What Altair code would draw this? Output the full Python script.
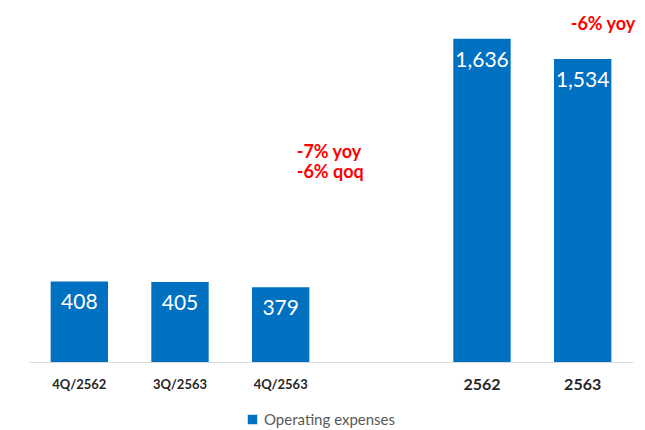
import altair as alt
import pandas as pd

# ---- data ----
categories = ["4Q/2562", "3Q/2563", "4Q/2563", "2562", "2563"]
values = [408, 405, 379, 1636, 1534]
series_name = "Operating expenses"
axis_order = ["4Q/2562", "3Q/2563", "4Q/2563", " ", "2562", "2563"]

note_q_texts = ["-7% yoy", "-6% qoq"]
note_q_levels = [1058, 957]
note_q_cat = ["4Q/2563", "4Q/2563"]

note_y_texts = ["-6% yoy"]
note_y_levels = [1706]
note_y_cat = ["2563"]

FONT = "Lato"
BLUE = "#0070C0"

df = pd.DataFrame({"cat": categories, "val": values, "series": [series_name] * len(categories)})
dq = pd.DataFrame({"cat": note_q_cat, "val": note_q_levels, "txt": note_q_texts})
dy_ = pd.DataFrame({"cat": note_y_cat, "val": note_y_levels, "txt": note_y_texts})

x_enc = alt.X(
    "cat:N",
    scale=alt.Scale(domain=axis_order, paddingInner=0.43, paddingOuter=0.215),
    axis=alt.Axis(
        title=None,
        ticks=False,
        domainColor="#D9D9D9",
        domainWidth=1,
        labelAngle=0,
        labelFont=FONT,
        labelFontWeight="bold",
        labelColor="#262626",
        labelFontSize={"condition": {"test": "length(datum.label) <= 4", "value": 16}, "value": 13},
        labelBaseline="middle",
        labelPadding=22,
    ),
)
y_scale = alt.Scale(domain=[0, 1782], nice=False)

bars = alt.Chart(df).mark_bar(color=BLUE).encode(
    x=x_enc,
    y=alt.Y("val:Q", scale=y_scale, axis=None),
    color=alt.Color(
        "series:N",
        scale=alt.Scale(range=[BLUE]),
        legend=alt.Legend(
            title=None,
            orient="none",
            legendX=216,
            legendY=402,
            symbolType="square",
            symbolSize=90,
            symbolStrokeWidth=0,
            labelFont=FONT,
            labelFontSize=15,
            labelColor="#595959",
        ),
    ),
)

labels = alt.Chart(df).mark_text(
    color="white", font=FONT, fontSize=21, baseline="middle", dy=22
).encode(
    x=alt.X("cat:N", scale=alt.Scale(domain=axis_order)),
    y=alt.Y("val:Q", scale=y_scale),
    text=alt.Text("val:Q", format=","),
)

notes_q = alt.Chart(dq).mark_text(
    color="#FF0000", font=FONT, fontSize=18, fontWeight="bold", align="left", baseline="middle", dx=16
).encode(
    x=alt.X("cat:N", scale=alt.Scale(domain=axis_order)),
    y=alt.Y("val:Q", scale=y_scale),
    text="txt:N",
)

notes_y = alt.Chart(dy_).mark_text(
    color="#FF0000", font=FONT, fontSize=18, fontWeight="bold", align="left", baseline="middle", dx=-12
).encode(
    x=alt.X("cat:N", scale=alt.Scale(domain=axis_order)),
    y=alt.Y("val:Q", scale=y_scale),
    text="txt:N",
)

chart = (
    alt.layer(bars, labels, notes_q, notes_y)
    .properties(
        width=604,
        height=352,
        background="white",
        autosize=alt.AutoSizeParams(type="none"),
        padding={"left": 21, "top": 2, "right": 4, "bottom": 68},
    )
    .configure_view(strokeWidth=0, stroke="transparent")
)

chart.save("out.html", embed_options={"renderer": "svg", "actions": False})
